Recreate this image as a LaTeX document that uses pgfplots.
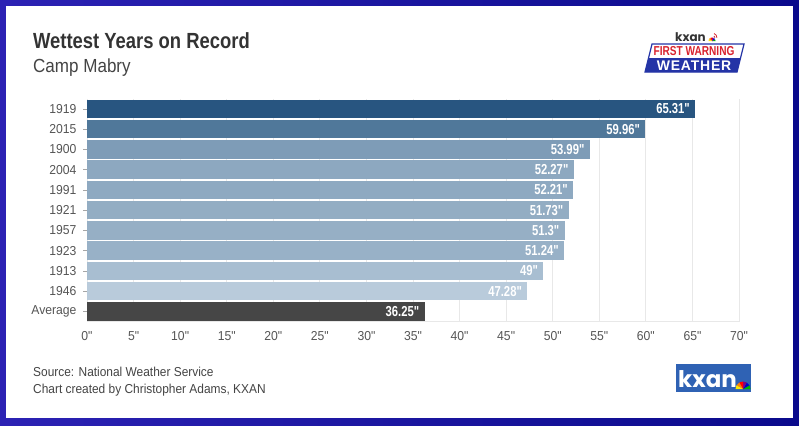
\documentclass[border=0pt]{standalone}
\usepackage{fontspec}
\setmainfont{Liberation Sans}
\newfontfamily\cond[FakeStretch=0.92]{Liberation Sans}
\newfontfamily\condt[FakeStretch=0.9]{Liberation Sans}
\newfontfamily\condk[FakeStretch=0.94]{Liberation Sans}
\newfontfamily\condb[FakeStretch=0.78]{Liberation Sans}
\newfontfamily\condh[FakeStretch=0.84]{Liberation Sans}
\newfontfamily\wide[LetterSpace=6]{Liberation Sans}
\newfontfamily\pop{Poppins}
\usepackage{pgfplots}
\pgfplotsset{compat=1.18}
\definecolor{frameL}{HTML}{2C22B4}
\definecolor{frameR}{HTML}{0A0A8C}
\definecolor{tcol}{HTML}{333333}
\definecolor{scol}{HTML}{444444}
\definecolor{kcol}{HTML}{555555}
\definecolor{gridc}{HTML}{E8E8E8}
\definecolor{b0}{HTML}{464646}
\definecolor{b1}{HTML}{B9CBDB}
\definecolor{b2}{HTML}{A8BED1}
\definecolor{b3}{HTML}{98B1C7}
\definecolor{b4}{HTML}{96AFC5}
\definecolor{b5}{HTML}{93ADC3}
\definecolor{b6}{HTML}{8EA9C1}
\definecolor{b7}{HTML}{8DA8C0}
\definecolor{b8}{HTML}{7E9CB7}
\definecolor{b9}{HTML}{50789A}
\definecolor{b10}{HTML}{285580}
\definecolor{fwblue}{HTML}{2434A6}
\definecolor{fwred}{HTML}{D9232E}
\definecolor{kxblue}{HTML}{2F62B4}
\begin{document}
\begin{tikzpicture}[x=1bp,y=1bp]
\shade[left color=frameL, right color=frameR] (0,0) rectangle (799,-425);
\fill[white] (6,-6) rectangle (793,-418);
% titles
\node[anchor=base west, inner sep=0, text=tcol, font=\condh\bfseries\fontsize{22}{26}\selectfont] at (33,-48) {Wettest Years on Record};
\node[anchor=base west, inner sep=0, text=scol, font=\condt\fontsize{19}{22}\selectfont] at (33,-72) {Camp Mabry};
% footer
\node[anchor=base west, inner sep=0, text=scol, font=\cond\fontsize{13}{15}\selectfont] at (33,-376) {Source: National Weather Service};
\node[anchor=base west, inner sep=0, text=scol, font=\cond\fontsize{13}{15}\selectfont] at (33,-393) {Chart created by Christopher Adams, KXAN};
% top logo
\node[anchor=base west, inner sep=0, text=tcol, font=\pop\bfseries\fontsize{12}{12}\selectfont] at (675,-41) {kxan};
\foreach \a/\c in {0/green!70!black,30/blue!80!black,60/violet,90/red,120/orange,150/yellow!90!orange}{
  \fill[\c] (712,-41) -- ++(\a:3.5) arc[start angle=\a, end angle=\a+30, radius=3.5] -- cycle;}
\draw[fwred, line width=0.8] (714,-36) arc[start angle=60, end angle=0, radius=2];
\draw[fwred, line width=0.8] (714,-33.5) arc[start angle=70, end angle=0, radius=4.5];
\draw[fill=white, draw=fwblue, line width=1.2] (652,-44) -- (744,-44) -- (737,-72) -- (645,-72) -- cycle;
\fill[fwblue] (648.5,-58) -- (740.5,-58) -- (737,-72) -- (645,-72) -- cycle;
\node[inner sep=0, text=fwred, font=\condb\bfseries\fontsize{13}{13}\selectfont] at (694,-51.5) {FIRST WARNING};
\node[inner sep=0, text=white, font=\wide\bfseries\fontsize{14}{14}\selectfont] at (694,-65.3) {WEATHER};
% bottom logo
\fill[kxblue] (676,-364) rectangle (751,-392);
\node[anchor=base west, inner sep=0, text=white, font=\pop\bfseries\fontsize{23}{23}\selectfont] at (678,-387) {kxan};
\foreach \a/\c in {0/green!70!black,30/blue!80!black,60/violet,90/red,120/orange,150/yellow!90!orange}{
  \fill[\c] (743,-389) -- ++(\a:7.5) arc[start angle=\a, end angle=\a+30, radius=7.5] -- cycle;}
\begin{axis}[
  at={(87bp,-321.5bp)}, anchor=south west,
  scale only axis, width=652bp, height=222.75bp,
  xmin=0, xmax=70, ymin=-0.5, ymax=10.5,
  xbar, bar width=18.5bp, bar shift=0pt,
  axis lines*=left,
  x axis line style={draw=gridc, line width=1pt},
  y axis line style={draw=none},
  xmajorgrids, grid style={draw=gridc, line width=0.8pt},
  xtick={0,5,...,70},
  xticklabels={0",5",10",15",20",25",30",35",40",45",50",55",60",65",70"},
  ytick={0,...,10},
  yticklabels={Average,1946,1913,1923,1957,1921,1991,2004,1900,2015,1919},
  tick align=outside, major tick length=4bp,
  xtick style={draw=none},
  ytick style={draw=gray!70, line width=0.6pt},
  ticklabel style={font=\condk\fontsize{13}{15}\selectfont, text=kcol},
  yticklabel style={xshift=-3bp},
  xticklabel style={anchor=north, text height=9.5bp, text depth=0bp, yshift=-2bp},
  point meta=explicit symbolic,
  nodes near coords,
  every node near coord/.append style={anchor=east, xshift=-2bp, text=white, font=\condb\bfseries\fontsize{14.5}{16}\selectfont},
  every axis plot/.append style={draw=none},
]
\addplot[fill=b0] coordinates {(36.25,0) [36.25"]};
\addplot[fill=b1] coordinates {(47.28,1) [47.28"]};
\addplot[fill=b2] coordinates {(49,2) [49"]};
\addplot[fill=b3] coordinates {(51.24,3) [51.24"]};
\addplot[fill=b4] coordinates {(51.3,4) [51.3"]};
\addplot[fill=b5] coordinates {(51.73,5) [51.73"]};
\addplot[fill=b6] coordinates {(52.21,6) [52.21"]};
\addplot[fill=b7] coordinates {(52.27,7) [52.27"]};
\addplot[fill=b8] coordinates {(53.99,8) [53.99"]};
\addplot[fill=b9] coordinates {(59.96,9) [59.96"]};
\addplot[fill=b10] coordinates {(65.31,10) [65.31"]};
\end{axis}
\end{tikzpicture}
\end{document}
